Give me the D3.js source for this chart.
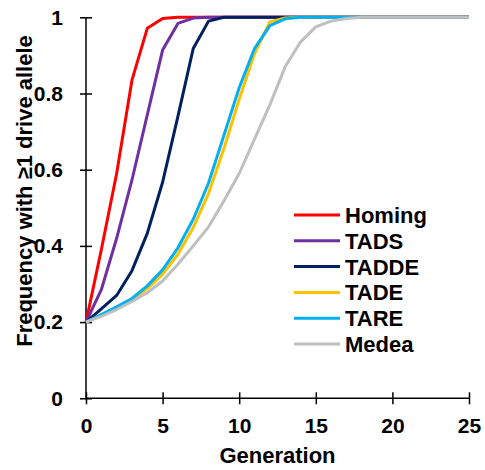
<!DOCTYPE html>
<html>
<head>
<meta charset="utf-8">
<script src="https://cdn.jsdelivr.net/npm/d3@7"></script>
<style>
body { margin: 0; background: #fff; }
text { font-family: "Liberation Sans", Arial, sans-serif; font-weight: bold; fill: #000; }
</style>
</head>
<body>
<svg width="485" height="470"></svg>
<script>
var generations = d3.range(0, 26);
var homing = [0.2, 0.39, 0.59, 0.835, 0.971, 0.997, 1, 1, 1, 1, 1, 1, 1, 1, 1, 1, 1, 1, 1, 1, 1, 1, 1, 1, 1, 1];
var tads   = [0.2, 0.285, 0.42, 0.573, 0.744, 0.914, 0.984, 0.998, 1, 1, 1, 1, 1, 1, 1, 1, 1, 1, 1, 1, 1, 1, 1, 1, 1, 1];
var tadde  = [0.2, 0.235, 0.27, 0.335, 0.433, 0.567, 0.74, 0.918, 0.99, 1, 1, 1, 1, 1, 1, 1, 1, 1, 1, 1, 1, 1, 1, 1, 1, 1];
var tade   = [0.2, 0.218, 0.237, 0.258, 0.288, 0.326, 0.378, 0.448, 0.538, 0.655, 0.785, 0.905, 0.988, 0.998, 1, 1, 1, 1, 1, 1, 1, 1, 1, 1, 1, 1];
var tare   = [0.2, 0.22, 0.24, 0.262, 0.295, 0.337, 0.395, 0.47, 0.565, 0.69, 0.815, 0.918, 0.978, 0.996, 1, 1, 1, 1, 1, 1, 1, 1, 1, 1, 1, 1];
var medea  = [0.2, 0.215, 0.233, 0.254, 0.277, 0.308, 0.352, 0.40, 0.45, 0.518, 0.59, 0.68, 0.77, 0.87, 0.935, 0.975, 0.99, 0.997, 1, 1, 1, 1, 1, 1, 1, 1];

var seriesNames = ["Homing", "TADS", "TADDE", "TADE", "TARE", "Medea"];
var seriesValues = [homing, tads, tadde, tade, tare, medea];
var seriesColors = ["#ff0000", "#7030a0", "#002060", "#ffc000", "#00b0f0", "#bfbfbf"];

var xTicks = [0, 5, 10, 15, 20, 25];
var yTicks = [0, 0.2, 0.4, 0.6, 0.8, 1];

var svg = d3.select("svg");

var x = d3.scaleLinear().domain([0, 25]).range([86, 469]);
var y = d3.scaleLinear().domain([0, 1]).range([398.3, 17.3]);

// axes
var xaxis = d3.axisBottom(x).tickValues(xTicks).tickSize(6).tickFormat(d3.format("d"));
var gx = svg.append("g").attr("class", "xaxis").attr("transform", "translate(0," + y(0) + ")").call(xaxis);
gx.selectAll(".tick line").attr("y1", -6).attr("y2", 6);
gx.selectAll(".tick text").attr("y", 20).attr("dy", "0.71em").style("font-size", "21px")
  .style("font-family", "'Liberation Sans', Arial, sans-serif").style("font-weight", "bold");
gx.select(".domain").attr("d", "M" + x(0) + ",0H" + x(25));

var yaxis = d3.axisLeft(y).tickValues(yTicks).tickSize(6).tickFormat(function(d) { return d === 0 || d === 1 ? d : d.toFixed(1); });
var gy = svg.append("g").attr("class", "yaxis").attr("transform", "translate(" + x(0) + ",0)").call(yaxis);
gy.selectAll(".tick line").attr("x1", -6).attr("x2", 6);
gy.selectAll(".tick text").attr("x", -23).style("font-size", "21px")
  .style("font-family", "'Liberation Sans', Arial, sans-serif").style("font-weight", "bold");
gy.select(".domain").attr("d", "M0," + y(0) + "V" + y(1));

svg.selectAll(".domain, .tick line").attr("stroke", "#000").attr("stroke-width", 1.5);

// lines
var line = d3.line()
  .x(function(d, i) { return x(generations[i]); })
  .y(function(d) { return y(d); });

svg.selectAll(".series")
  .data(seriesValues)
  .enter()
  .append("path")
  .attr("class", "series")
  .attr("d", line)
  .attr("fill", "none")
  .attr("stroke", function(d, i) { return seriesColors[i]; })
  .attr("stroke-width", 3)
  .attr("stroke-linejoin", "round");

// legend
var legend = svg.selectAll(".legend")
  .data(seriesNames)
  .enter()
  .append("g")
  .attr("class", "legend")
  .attr("transform", function(d, i) { return "translate(294," + (215 + i * 25.8) + ")"; });

legend.append("line")
  .attr("x1", 0).attr("x2", 46)
  .attr("stroke", function(d, i) { return seriesColors[i]; })
  .attr("stroke-width", 3);

legend.append("text")
  .attr("x", 51)
  .attr("y", 8)
  .style("font-size", "22px")
  .text(function(d) { return d; });

// axis titles
svg.append("text")
  .attr("x", x(12.5))
  .attr("y", 463)
  .style("text-anchor", "middle")
  .style("font-size", "22px")
  .text("Generation");

svg.append("text")
  .attr("transform", "translate(32,191) rotate(-90)")
  .style("text-anchor", "middle")
  .style("font-size", "22px")
  .text("Frequency with ≥1 drive allele");
</script>
</body>
</html>
